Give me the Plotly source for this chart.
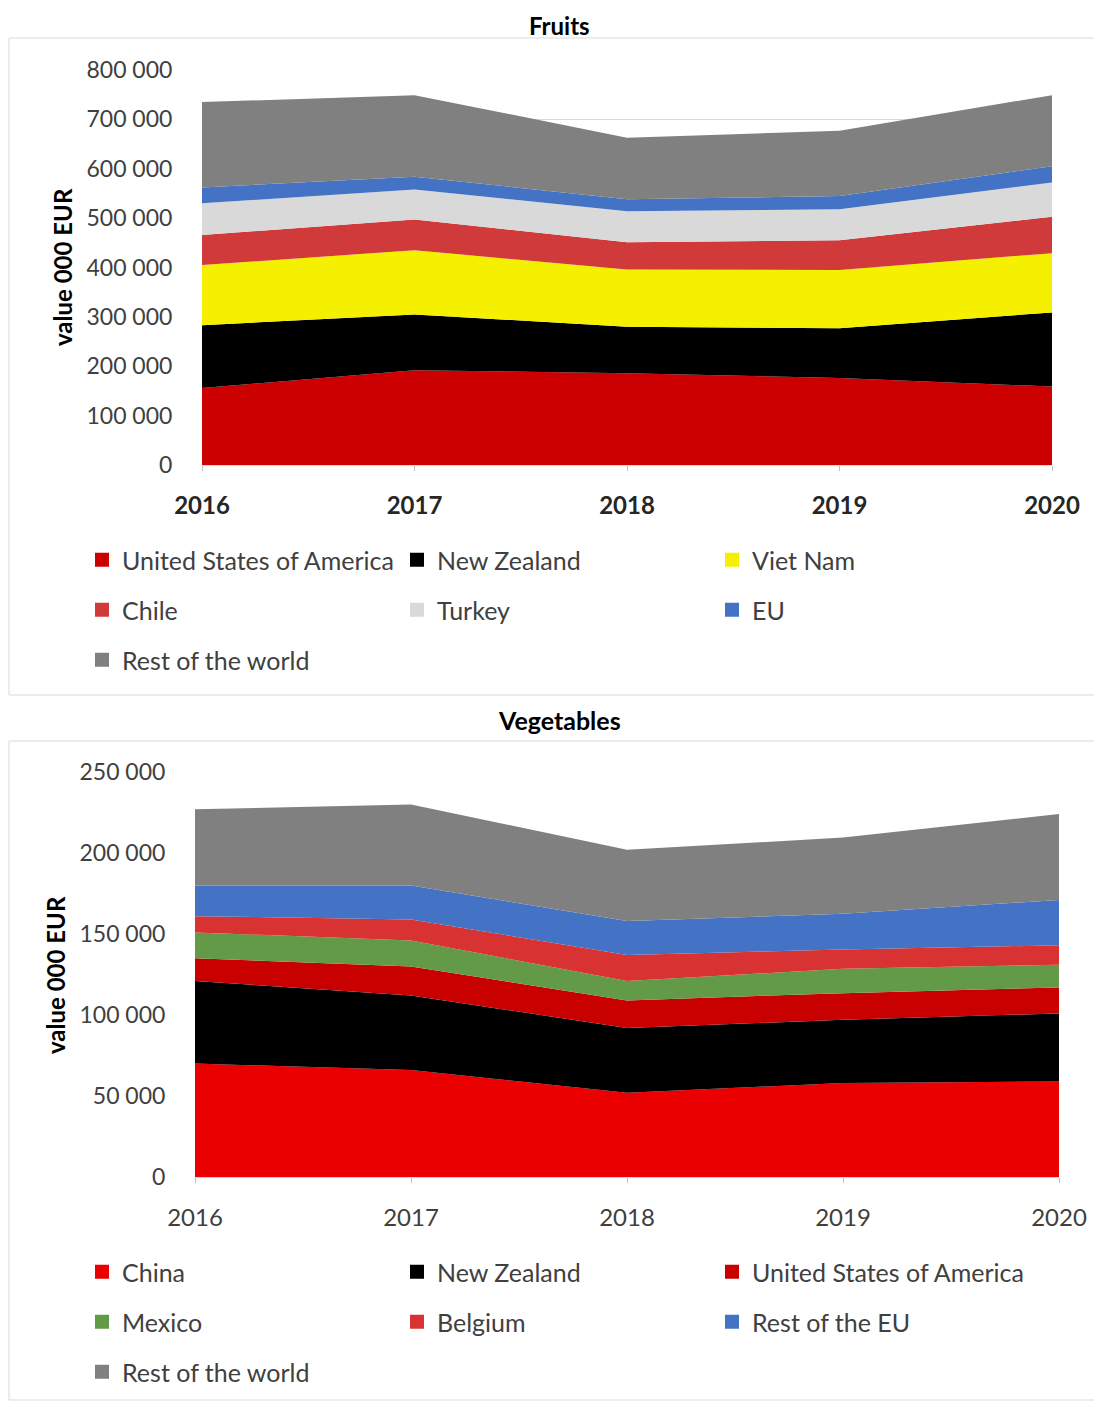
import plotly.graph_objects as go

years = [2016, 2017, 2018, 2019, 2020]

# Fruits (value 000 EUR)
fruit_names = ["United States of America", "New Zealand", "Viet Nam", "Chile", "Turkey", "EU", "Rest of the world"]
fruit_usa = [156000, 192000, 186000, 176000, 159000]
fruit_nz = [127000, 113000, 94000, 101000, 150000]
fruit_vn = [122000, 130000, 116000, 118000, 120000]
fruit_chile = [61000, 62000, 55000, 60000, 74000]
fruit_turkey = [64000, 61000, 63000, 63000, 69000]
fruit_eu = [32000, 26000, 24000, 27000, 33000]
fruit_row = [173000, 165000, 125000, 132000, 144000]
fruit_colors = ["#cc0000", "#000000", "#f5f000", "#d03a3a", "#d9d9d9", "#4472c4", "#808080"]

# Vegetables (value 000 EUR)
veg_names = ["China", "New Zealand", "United States of America", "Mexico", "Belgium", "Rest of the EU", "Rest of the world"]
veg_china = [70000, 66000, 52000, 58000, 59000]
veg_nz = [51000, 46000, 40000, 39000, 42000]
veg_usa = [14000, 18000, 17000, 16500, 16000]
veg_mexico = [16000, 16000, 12000, 15000, 14000]
veg_belgium = [10000, 13000, 16000, 12000, 12000]
veg_resteu = [19000, 21000, 21000, 22000, 28000]
veg_row = [47000, 50000, 44000, 47000, 53000]
veg_colors = ["#ea0000", "#000000", "#c80000", "#629a48", "#d93232", "#4472c4", "#808080"]

fruit_series = [fruit_usa, fruit_nz, fruit_vn, fruit_chile, fruit_turkey, fruit_eu, fruit_row]
veg_series = [veg_china, veg_nz, veg_usa, veg_mexico, veg_belgium, veg_resteu, veg_row]

OFF = 8  # default page body margin
W, H = 1102 - OFF, 1401 - OFF
FONT = "Lato"
TXT = "#404040"

def px_x(p):
    return (p - OFF) / W

def px_y(p):
    return 1 - (p - OFF) / H

fig = go.Figure()

# row-based legends: fruits rows -> legend, legend2, legend3 ; veg rows -> legend4, legend5, legend6
fruit_rows = ["legend", "legend", "legend", "legend2", "legend2", "legend2", "legend3"]
veg_rows = ["legend4", "legend4", "legend4", "legend5", "legend5", "legend5", "legend6"]

for name, vals, col, lg in zip(fruit_names, fruit_series, fruit_colors, fruit_rows):
    fig.add_trace(go.Scatter(x=years, y=vals, name=name, stackgroup="f", mode="none",
                             fillcolor=col, line=dict(width=0), showlegend=False,
                             xaxis="x", yaxis="y"))
    fig.add_trace(go.Scatter(x=[None], y=[None], name=name, mode="markers",
                             marker=dict(symbol="square", size=14, color=col),
                             showlegend=True, legend=lg, xaxis="x", yaxis="y"))

for name, vals, col, lg in zip(veg_names, veg_series, veg_colors, veg_rows):
    fig.add_trace(go.Scatter(x=years, y=vals, name=name, stackgroup="v", mode="none",
                             fillcolor=col, line=dict(width=0), showlegend=False,
                             xaxis="x2", yaxis="y2"))
    fig.add_trace(go.Scatter(x=[None], y=[None], name=name, mode="markers",
                             marker=dict(symbol="square", size=14, color=col),
                             showlegend=True, legend=lg, xaxis="x2", yaxis="y2"))

def legend_cfg(y_px):
    return dict(orientation="h", x=px_x(82), xanchor="left", y=px_y(y_px), yanchor="middle",
                entrywidth=270, entrywidthmode="pixels", bgcolor="rgba(0,0,0,0)",
                font=dict(family=FONT, size=25, color=TXT), itemclick=False,
                traceorder="normal")

common_x = dict(type="linear", tickmode="array", tickvals=years, range=[2016, 2020],
                showgrid=False, showline=True, linecolor="#d9d9d9", linewidth=1,
                ticks="outside", ticklen=5, tickcolor="#bfbfbf", zeroline=False,
                ticklabelstandoff=14)

fig.update_layout(
    width=W, height=H, margin=dict(l=0, r=0, t=0, b=0, autoexpand=False),
    paper_bgcolor="white", plot_bgcolor="white",
    separators=". ",
    showlegend=True,
    xaxis=dict(domain=[px_x(202), px_x(1052)], anchor="y",
               tickfont=dict(family=FONT, size=24, color="#262626", weight="bold"), **common_x),
    yaxis=dict(domain=[px_y(465), px_y(70)], anchor="x", range=[0, 800000], dtick=100000,
               tickformat=",d", showgrid=True, gridcolor="#d9d9d9", gridwidth=1, zeroline=False,
               ticks="outside", ticklen=24, tickcolor="rgba(0,0,0,0)",
               tickfont=dict(family=FONT, size=23, color=TXT)),
    xaxis2=dict(domain=[px_x(195), px_x(1059)], anchor="y2",
                tickfont=dict(family=FONT, size=24, color=TXT), **common_x),
    yaxis2=dict(domain=[px_y(1177), px_y(772)], anchor="x2", range=[0, 250000], dtick=50000,
                tickformat=",d", showgrid=True, gridcolor="#d9d9d9", gridwidth=1, zeroline=False,
                ticks="outside", ticklen=24, tickcolor="rgba(0,0,0,0)",
                tickfont=dict(family=FONT, size=23, color=TXT)),
    legend=legend_cfg(560),
    legend2=legend_cfg(610),
    legend3=legend_cfg(660),
    legend4=legend_cfg(1272),
    legend5=legend_cfg(1322),
    legend6=legend_cfg(1372),
)

annotations = [
    dict(text="<b>Fruits</b>", x=px_x(559), y=px_y(9), xanchor="center", yanchor="top",
         font=dict(family=FONT, size=24, color="#000000")),
    dict(text="<b>Vegetables</b>", x=px_x(559), y=px_y(720), xanchor="center", yanchor="middle",
         font=dict(family=FONT, size=25, color="#000000")),
    dict(text="<b>value 000 EUR</b>", x=px_x(62), y=px_y(267), xanchor="center", yanchor="middle",
         textangle=-90, font=dict(family=FONT, size=24, color="#000000")),
    dict(text="<b>value 000 EUR</b>", x=px_x(55), y=px_y(975), xanchor="center", yanchor="middle",
         textangle=-90, font=dict(family=FONT, size=24, color="#000000")),
]
for a in annotations:
    a.update(xref="paper", yref="paper", showarrow=False)
fig.update_layout(annotations=annotations)

fig.update_layout(shapes=[
    dict(type="rect", xref="paper", yref="paper", x0=px_x(9), x1=px_x(1101), y0=px_y(695), y1=px_y(38),
         line=dict(color="#d9d9d9", width=1), layer="below"),
    dict(type="rect", xref="paper", yref="paper", x0=px_x(9), x1=px_x(1101), y0=px_y(1400), y1=px_y(741),
         line=dict(color="#d9d9d9", width=1), layer="below"),
])

fig.write_html("out.html")
